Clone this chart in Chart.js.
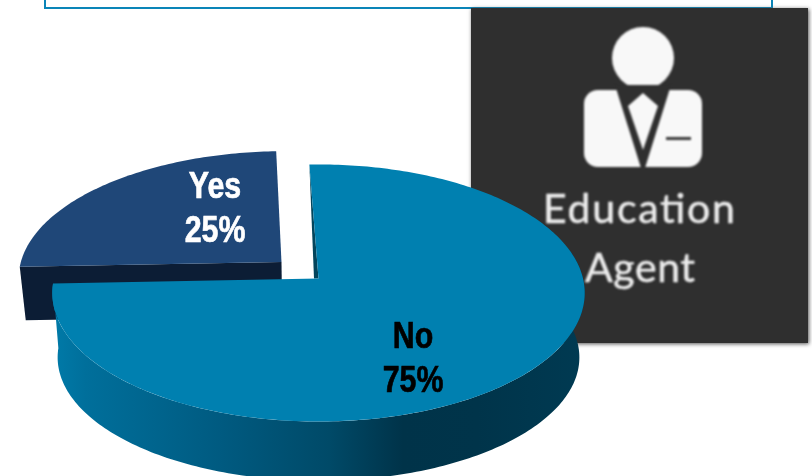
<!DOCTYPE html>
<html>
<head>
<meta charset="utf-8">
<title>Education Agent</title>
<script src="https://cdn.jsdelivr.net/npm/chart.js@4"></script>
<style>
    html, body { margin: 0; padding: 0; background: #fff; overflow: hidden; }
    #stage { position: relative; width: 812px; height: 476px; overflow: hidden; }
    #frame {
        position: absolute; left: 44px; top: -10px; width: 725px; height: 15px;
        border: 2px solid #0a85b8;
    }
    #panel {
        position: absolute; left: 471px; top: 8px; width: 337px; height: 335px;
        background: #2f2f2f; box-shadow: 1px 1px 4px #555;
    }
    #panel svg { position: absolute; left: 0; top: 0; filter: blur(0.9px); }
    #pie { position: absolute; left: 0; top: 0; }
</style>
</head>
<body>
<div id="stage">
    <div id="frame"></div>
    <div id="panel">
        <!-- agent icon and caption -->
        <svg width="337" height="335" viewBox="471 8 337 335">
            <circle cx="643" cy="58" r="31" fill="#f8f8f8"/>
            <rect x="584" y="90" width="118" height="77" rx="14" fill="#f8f8f8"/>
            <polygon points="615,85 671,85 645,168 641,168" fill="#2f2f2f"/>
            <polygon points="628,106 643,93 658,106 643,150" fill="#f8f8f8"/>
            <rect x="666" y="137" width="25" height="3" fill="#3a3a3a"/>
            <g fill="#ececec" stroke="#ececec" stroke-width="0.5">
                <text x="639" y="223" text-anchor="middle" font-family="Lato" font-size="41" textLength="192">Education</text>
                <text x="640" y="282" text-anchor="middle" font-family="Lato" font-size="41" textLength="110">Agent</text>
            </g>
        </svg>
    </div>
    <canvas id="pie" width="812" height="476"></canvas>
</div>
<script>
const categories = ["No", "Yes"];
const shares = [75, 25];
const sliceColors = ["#0080b0", "#1f4778"];
const labelColors = ["#000000", "#ffffff"];

// tilted disc: everything goes through this instead of a flat circle
const cx = 318.5, cy = 278.5;
const rx = 264.5, ry = 126.9, persp = 0.1127;

function project(u, v, lower, depth) {
    const k = 1 / (1 - persp * v);
    const X = rx * u * k;
    const Y = ry * v * k;
    if (lower) {
        return [cx + X * 0.98, cy + Y * 0.96 + depth];
    }
    return [cx + X, cy + Y];
}

function rimPoints(a0, a1, ox, oy, lower, depth) {
    const pts = [];
    const steps = Math.ceil(Math.abs(a1 - a0) / (Math.PI / 180));
    for (let i = 0; i <= steps; i++) {
        const a = a0 + (a1 - a0) * i / steps;
        pts.push(project(ox + Math.cos(a), oy + Math.sin(a), lower, depth));
    }
    return pts;
}

function fillPoly(ctx, pts, fill) {
    ctx.beginPath();
    pts.forEach((p, i) => i ? ctx.lineTo(p[0], p[1]) : ctx.moveTo(p[0], p[1]));
    ctx.closePath();
    ctx.fillStyle = fill;
    ctx.fill();
}

// slice offset as a fraction of the radius, along the middle of the slice
function sliceOffset(arc) {
    const mid = (arc.startAngle + arc.endAngle) / 2;
    const d = arc.options.offset / arc.outerRadius;
    return [d * Math.cos(mid), d * Math.sin(mid)];
}

const tiltedPie = {
    id: "tiltedPie",
    beforeDatasetsDraw(chart) {
        const ctx = chart.ctx;
        const arcs = chart.getDatasetMeta(0).data;
        const no = arcs[0], yes = arcs[1];

        ctx.save();

        // Yes slice, wall first
        const yo = sliceOffset(yes);
        const yesDepth = 53;
        const yesApex = project(yo[0], yo[1], false, 0);
        const yesCorner = project(yo[0] + Math.cos(yes.startAngle), yo[1] + Math.sin(yes.startAngle), false, 0);
        const yesApexLow = project(yo[0], yo[1], true, yesDepth);
        const yesCornerLow = project(yo[0] + Math.cos(yes.startAngle), yo[1] + Math.sin(yes.startAngle), true, yesDepth);
        fillPoly(ctx, [yesCorner, yesApex, yesApexLow, yesCornerLow], "#0c1d35");
        fillPoly(ctx, [yesApex].concat(rimPoints(yes.startAngle, yes.endAngle, yo[0], yo[1], false, 0)), yes.options.backgroundColor);

        // No slice, curved wall with a sideways shade
        const noDepth = 65;
        const grad = ctx.createLinearGradient(cx - rx, 0, cx + rx, 0);
        grad.addColorStop(0, "#007aa8");
        grad.addColorStop(0.06, "#006f9b");
        grad.addColorStop(0.32, "#005a80");
        grad.addColorStop(0.52, "#004a68");
        grad.addColorStop(0.66, "#003349");
        grad.addColorStop(0.8, "#00344a");
        grad.addColorStop(1, "#003a52");
        const upper = rimPoints(-0.25, no.endAngle, 0, 0, false, 0);
        const lower = rimPoints(-0.25, no.endAngle, 0, 0, true, noDepth);
        fillPoly(ctx, upper.concat(lower.reverse()), grad);

        // thin inner wall along the start edge of the slice
        const apex = project(0, 0, false, 0);
        const start = project(Math.cos(no.startAngle), Math.sin(no.startAngle), false, 0);
        fillPoly(ctx, [start, [apex[0] - 4.5, apex[1]], apex], "#03455c");

        fillPoly(ctx, [apex].concat(rimPoints(no.startAngle, no.endAngle, 0, 0, false, 0)), no.options.backgroundColor);

        // value labels, bold sans squeezed to a narrow width
        const labelSpots = [[413, 348, 392], [215, 198, 242]];
        const squeeze = 0.82;
        ctx.font = "bold 37px 'Liberation Sans'";
        ctx.textAlign = "center";
        ctx.textBaseline = "alphabetic";
        ctx.lineWidth = 0.7;
        categories.forEach((name, i) => {
            ctx.fillStyle = labelColors[i];
            ctx.strokeStyle = labelColors[i];
            ctx.save();
            ctx.translate(labelSpots[i][0], 0);
            ctx.scale(squeeze, 1);
            [name, shares[i] + "%"].forEach((line, row) => {
                ctx.fillText(line, 0, labelSpots[i][row + 1]);
                ctx.strokeText(line, 0, labelSpots[i][row + 1]);
            });
            ctx.restore();
        });

        ctx.restore();
        return false;
    }
};

new Chart(document.getElementById("pie").getContext("2d"), {
    type: "pie",
    data: {
        labels: categories,
        datasets: [{
            data: shares,
            backgroundColor: sliceColors,
            borderWidth: 0,
            offset: [0, 42]
        }]
    },
    options: {
        responsive: false,
        animation: false,
        rotation: -2.2,
        layout: { padding: 0 },
        plugins: {
            legend: { display: false },
            tooltip: { enabled: false }
        }
    },
    plugins: [tiltedPie]
});
</script>
</body>
</html>
